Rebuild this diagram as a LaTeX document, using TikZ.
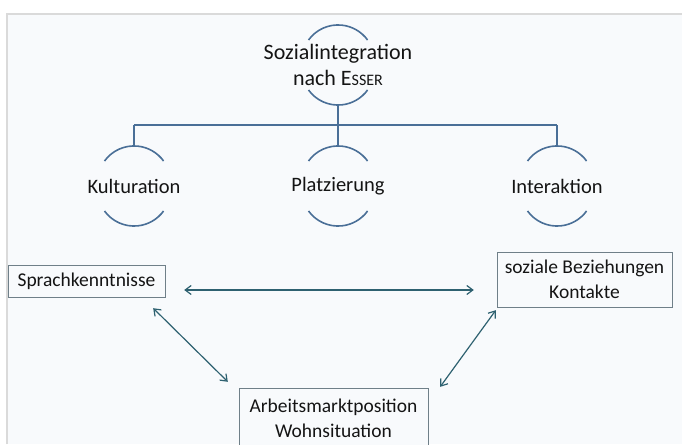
\documentclass[tikz,border=0pt]{standalone}
\usepackage{fontspec}
\setmainfont{Carlito}
\usetikzlibrary{arrows.meta}
\definecolor{treeblue}{HTML}{4A6F97}
\definecolor{arrteal}{HTML}{2E6170}
\definecolor{bgpanel}{HTML}{F8FAFC}
\definecolor{framegray}{HTML}{DADADA}
\definecolor{boxgray}{HTML}{6F7F88}

\tikzset{
  lbl/.style={font=\fontsize{20.5}{26}\selectfont, align=center, text=black!92},
  boxlbl/.style={draw=boxgray, fill=bgpanel, font=\fontsize{19.5}{25}\selectfont, align=center, text=black!92, inner sep=0pt},
  link/.style={draw=arrteal, line width=1.2pt, {Straight Barb[length=6pt,width=9pt]}-{Straight Barb[length=6pt,width=9pt]}},
  tree/.style={draw=treeblue, line width=1.6pt}
}

\begin{document}
\begin{tikzpicture}[x=1pt,y=1pt]
\useasboundingbox (0,0) rectangle (682,-444);
\fill[white] (0,0) rectangle (682,-444);
\fill[bgpanel] (7,-14) rectangle (682,-444);
\draw[framegray, line width=2pt] (7,-444) -- (7,-14) -- (682,-14);

% labels of the tree
\node[lbl, font=\fontsize{22}{26}\selectfont] (soz) at (338,-65) {Sozialintegration\\nach E{\fontsize{16}{16}\selectfont SSER}};
\node[lbl] (kul) at (134,-186) {Kulturation};
\node[lbl] (pla) at (338,-186) {Platzierung};
\node[lbl] (int) at (557,-186) {Interaktion};

\foreach \n in {soz,kul,pla,int}{
  \draw[tree] ([shift={(-29.5,25)}]\n.center) arc[start angle=144,end angle=36,radius=36.5];
  \draw[tree] ([shift={(-29.5,-25)}]\n.center) arc[start angle=216,end angle=324,radius=36.5];
}

\draw[tree] ([yshift=-40pt]soz.center) -- ([yshift=-60pt]soz.center) coordinate (split);
\draw[tree] (kul.center |- split) -- (int.center |- split);
\foreach \n in {kul,pla,int}
  \draw[tree] (\n.center |- split) -- ([yshift=40pt]\n.center);

% boxes
\node[boxlbl, minimum width=157pt, minimum height=32pt] (spr) at (86.5,-281) {Sprachkenntnisse};
\node[boxlbl, minimum width=175pt, minimum height=55pt] (bez) at (584.5,-279.5) {soziale Beziehungen\\Kontakte};
\node[boxlbl, minimum width=189pt, minimum height=60pt] (arb) at (333.5,-418) {Arbeitsmarktposition\\Wohnsituation};

\draw[link] ([shift={(19,-9)}]spr.east) -- ([shift={(-23,-10.5)}]bez.west);
\draw[link] ([shift={(-12,-11)}]spr.south east) -- ([shift={(-11,6)}]arb.north west);
\draw[link] ([shift={(-1,-3)}]bez.south west) -- ([shift={(12,1)}]arb.north east);
\end{tikzpicture}
\end{document}
